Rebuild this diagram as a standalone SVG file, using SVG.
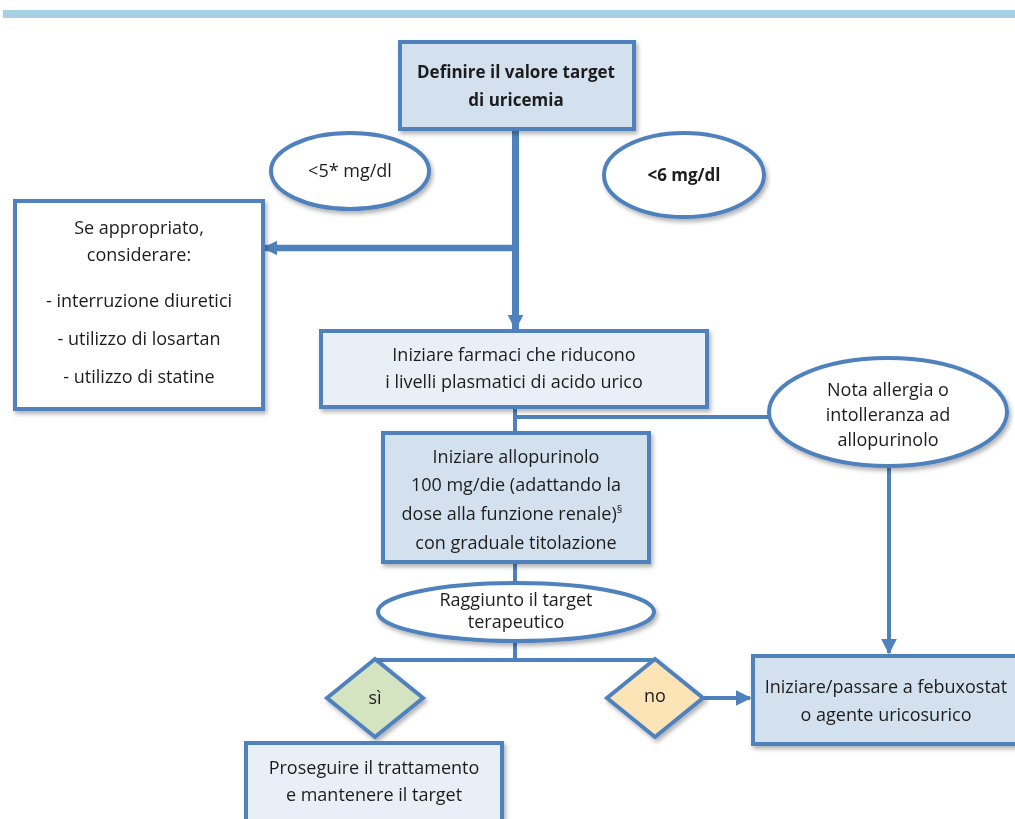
<svg xmlns="http://www.w3.org/2000/svg" width="1015" height="819" viewBox="0 0 1015 819">
<defs>
<style>
.t{font-family:"Open Sans","Noto Sans","Liberation Sans",sans-serif;font-size:18px;fill:#1e1e1e;text-anchor:middle}
.b{font-weight:bold;font-size:17px}
.box{stroke:#4F81BD;stroke-width:4}
.dk{fill:#D3E0EE}
.lt{fill:#E9EFF7}
.wh{fill:#fff}
.ln{stroke:#4F81BD;fill:none}
</style>
<filter id="sh" x="-10%" y="-10%" width="130%" height="140%">
<feDropShadow dx="2" dy="3" stdDeviation="2" flood-color="#000" flood-opacity="0.3"/>
</filter>
<marker id="ah" viewBox="0 0 10 10" refX="9" refY="5" markerWidth="2.3" markerHeight="2.4" orient="auto" markerUnits="strokeWidth">
<path d="M0,0 L10,5 L0,10 z" fill="#4F81BD"/>
</marker>
<marker id="ah2" viewBox="0 0 10 10" refX="9" refY="5" markerWidth="4" markerHeight="4" orient="auto" markerUnits="strokeWidth">
<path d="M0,0 L10,5 L0,10 z" fill="#4F81BD"/>
</marker>
</defs>
<rect x="3" y="10" width="1012" height="8" fill="#A8D0E4"/>

<g id="connectors">
<line class="ln" x1="515.5" y1="131" x2="515.5" y2="329" stroke-width="7" marker-end="url(#ah)"/>
<line class="ln" x1="512" y1="248" x2="264" y2="248" stroke-width="6.5" marker-end="url(#ah)"/>
<line class="ln" x1="515" y1="408" x2="515" y2="432" stroke-width="4"/>
<line class="ln" x1="515" y1="417" x2="770" y2="417" stroke-width="4"/>
<line class="ln" x1="889" y1="466" x2="889" y2="653" stroke-width="4" marker-end="url(#ah2)"/>
<line class="ln" x1="515" y1="563" x2="515" y2="583" stroke-width="4"/>
<line class="ln" x1="515" y1="641" x2="515" y2="660" stroke-width="4"/>
<line class="ln" x1="375" y1="660" x2="655" y2="660" stroke-width="4"/>
<line class="ln" x1="703" y1="698" x2="750" y2="698" stroke-width="4" marker-end="url(#ah2)"/>
</g>

<g id="n-target" filter="url(#sh)">
<rect class="box dk" x="400" y="42" width="234" height="87"/>
<text class="t b" x="516" y="78">Definire il valore target</text>
<text class="t b" x="516" y="106">di uricemia</text>
</g>

<g id="n-lt5" filter="url(#sh)">
<ellipse class="box wh" cx="350" cy="171" rx="79" ry="38"/>
<text class="t" x="350" y="177">&lt;5* mg/dl</text>
</g>

<g id="n-lt6" filter="url(#sh)">
<ellipse class="box wh" cx="684" cy="175" rx="80" ry="42"/>
<text class="t b" x="684" y="181">&lt;6 mg/dl</text>
</g>

<g id="n-consider" filter="url(#sh)">
<rect class="box wh" x="15" y="201" width="248" height="208"/>
<text class="t" x="139" y="234">Se appropriato,</text>
<text class="t" x="139" y="261">considerare:</text>
<text class="t" x="139" y="307">- interruzione diuretici</text>
<text class="t" x="139" y="345">- utilizzo di losartan</text>
<text class="t" x="139" y="383">- utilizzo di statine</text>
</g>

<g id="n-farmaci" filter="url(#sh)">
<rect class="box lt" x="321" y="331" width="386" height="76"/>
<text class="t" x="514" y="361">Iniziare farmaci che riducono</text>
<text class="t" x="514" y="388">i livelli plasmatici di acido urico</text>
</g>

<g id="n-allergia" filter="url(#sh)">
<ellipse class="box wh" cx="888" cy="412" rx="119" ry="54"/>
<text class="t" x="888" y="396">Nota allergia o</text>
<text class="t" x="888" y="421">intolleranza ad</text>
<text class="t" x="888" y="446">allopurinolo</text>
</g>

<g id="n-allopurinolo" filter="url(#sh)">
<rect class="box dk" x="383" y="433" width="266" height="129"/>
<text class="t" x="516" y="463">Iniziare allopurinolo</text>
<text class="t" x="516" y="491">100 mg/die (adattando la</text>
<text class="t" x="512" y="520">dose alla funzione renale)<tspan font-size="11" dy="-7">§</tspan></text>
<text class="t" x="516" y="549">con graduale titolazione</text>
</g>

<g id="n-raggiunto" filter="url(#sh)">
<ellipse class="box wh" cx="516" cy="612" rx="138" ry="29"/>
<text class="t" x="516" y="606">Raggiunto il target</text>
<text class="t" x="516" y="628">terapeutico</text>
</g>

<g id="n-si" filter="url(#sh)">
<polygon class="box" fill="#D4E3C0" points="375,659 423,698 375,737 327,698"/>
<text class="t" x="375" y="704">sì</text>
</g>

<g id="n-no" filter="url(#sh)">
<polygon class="box" fill="#FCE4B7" points="655,659 703,698 655,737 607,698"/>
<text class="t" x="655" y="702">no</text>
</g>

<g id="n-febuxostat" filter="url(#sh)">
<rect class="box dk" x="753" y="656" width="270" height="88"/>
<text class="t" x="886" y="693">Iniziare/passare a febuxostat</text>
<text class="t" x="886" y="721">o agente uricosurico</text>
</g>

<g id="n-proseguire" filter="url(#sh)">
<rect class="box lt" x="246" y="743" width="256" height="90"/>
<text class="t" x="374" y="774">Proseguire il trattamento</text>
<text class="t" x="374" y="801">e mantenere il target</text>
</g>
</svg>
